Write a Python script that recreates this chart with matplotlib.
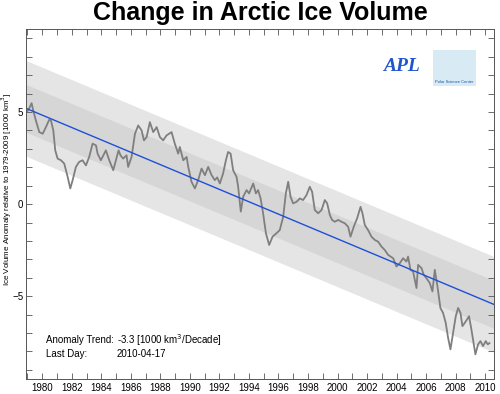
import matplotlib
matplotlib.use('Agg')
import matplotlib.pyplot as plt
from matplotlib.ticker import MultipleLocator
from matplotlib.patches import Rectangle
import numpy as np

plt.rcParams['font.family'] = ['Liberation Sans', 'DejaVu Sans']

# anomaly series (decimal year, 1000 km^3)
years = [1979.0, 1979.1, 1979.28, 1979.39, 1979.57, 1979.8, 1980.03, 1980.25, 1980.47, 1980.59,
         1980.75, 1980.88, 1981.04, 1981.27, 1981.49, 1981.72, 1981.9, 1982.06, 1982.28, 1982.5,
         1982.73, 1982.96, 1983.18, 1983.41, 1983.64, 1983.75, 1983.97, 1984.31, 1984.54, 1984.81,
         1984.99, 1985.17, 1985.3, 1985.48, 1985.71, 1985.82, 1986.05, 1986.28, 1986.5, 1986.73,
         1986.89, 1987.07, 1987.29, 1987.52, 1987.75, 1987.97, 1988.19, 1988.42, 1988.76, 1988.98,
         1989.21, 1989.32, 1989.55, 1989.78, 1989.89, 1990.11, 1990.34, 1990.56, 1990.79, 1991.02,
         1991.24, 1991.47, 1991.69, 1991.85, 1992.03, 1992.25, 1992.44, 1992.59, 1992.76, 1992.93,
         1993.16, 1993.27, 1993.45, 1993.61, 1993.84, 1994.01, 1994.29, 1994.47, 1994.62, 1994.79,
         1994.96, 1995.15, 1995.37, 1995.6, 1995.87, 1996.09, 1996.32, 1996.5, 1996.66, 1996.82,
         1996.99, 1997.22, 1997.45, 1997.67, 1997.9, 1998.12, 1998.28, 1998.46, 1998.69, 1998.92,
         1999.14, 1999.3, 1999.48, 1999.63, 1999.82, 2000.04, 2000.27, 2000.49, 2000.72, 2000.88,
         2001.1, 2001.33, 2001.56, 2001.69, 2001.85, 2002.07, 2002.3, 2002.53, 2002.75, 2002.98,
         2003.2, 2003.43, 2003.77, 2003.99, 2004.22, 2004.44, 2004.67, 2004.78, 2004.94, 2005.12,
         2005.35, 2005.46, 2005.69, 2005.84, 2006.02, 2006.25, 2006.43, 2006.59, 2006.77, 2006.97,
         2007.15, 2007.33, 2007.49, 2007.65, 2007.83, 2008.01, 2008.17, 2008.33, 2008.46, 2008.62,
         2008.77, 2008.91, 2009.07, 2009.18, 2009.34, 2009.52, 2009.68, 2009.86, 2010.04, 2010.18,
         2010.29]
anomaly = [5.05, 5.17, 5.48, 5.08, 4.54, 3.91, 3.82, 4.18, 4.58, 4.54,
           4.0, 2.92, 2.47, 2.38, 2.2, 1.48, 0.85, 1.3, 2.02, 2.29,
           2.38, 2.1, 2.56, 3.28, 3.19, 2.74, 2.38, 2.92, 2.38, 1.84,
           2.38, 2.92, 2.65, 2.47, 2.65, 2.02, 2.56, 3.82, 4.27, 4.0,
           3.46, 3.64, 4.45, 3.91, 4.18, 3.64, 3.46, 3.73, 3.91, 3.28,
           2.74, 3.1, 2.38, 2.56, 2.02, 1.21, 0.85, 1.3, 1.93, 1.57,
           2.02, 1.57, 1.3, 1.45, 1.12, 1.66, 2.38, 2.83, 2.74, 1.84,
           1.48, 0.94, -0.41, 0.4, 0.76, 0.58, 1.12, 0.58, 0.76, 0.31,
           -0.5, -1.58, -2.22, -1.77, -1.58, -1.41, -0.69, 0.58, 1.21, 0.4,
           0.04, 0.12, 0.31, 0.22, 0.49, 0.94, 0.67, -0.32, -0.5, -0.32,
           0.22, 0.04, -0.59, -0.86, -0.96, -0.86, -0.96, -1.04, -1.23, -1.77,
           -1.23, -0.77, -0.15, -0.5, -1.14, -1.41, -1.77, -1.95, -2.04, -2.31,
           -2.49, -2.76, -2.94, -3.39, -3.21, -2.94, -3.12, -2.85, -3.57, -3.66,
           -4.56, -3.3, -3.48, -3.84, -4.02, -4.29, -4.74, -3.57, -4.47, -5.64,
           -5.91, -6.45, -7.26, -7.89, -6.99, -6.09, -5.64, -5.91, -6.63, -6.45,
           -6.27, -6.09, -6.81, -7.35, -8.16, -7.62, -7.44, -7.71, -7.44, -7.62,
           -7.55]

# linear trend and its 1 / 2 sigma bands
trend_years = [1978.9, 2010.6]
trend_values = [5.2, -5.45]
sigma = 1.3

fig = plt.figure(figsize=(5, 3.94), dpi=100)
ax = fig.add_axes([0.052, 0.038, 0.936, 0.888])

ty = np.array(trend_years)
tv = np.array(trend_values)
ax.fill_between(ty, tv - 2 * sigma, tv + 2 * sigma, color='#e5e5e5', lw=0)
ax.fill_between(ty, tv - sigma, tv + sigma, color='#d6d6d6', lw=0)
ax.plot(years, anomaly, color='#7f7f7f', lw=1.3)
ax.plot(ty, tv, color='#1e4fd8', lw=1.0)

ax.set_xlim(1978.9, 2010.6)
ax.set_ylim(-9.5, 9.5)
ax.xaxis.set_major_locator(MultipleLocator(2))
ax.xaxis.set_minor_locator(MultipleLocator(1))
ax.yaxis.set_major_locator(MultipleLocator(5))
ax.yaxis.set_minor_locator(MultipleLocator(1))
ax.tick_params(which='both', direction='in', top=True, right=True, length=4,
               width=0.6, color='#555555', labelsize=7, pad=3)
ax.tick_params(axis='y', pad=2)
for s in ax.spines.values():
    s.set_color('#555555')
    s.set_linewidth(0.7)

fig.text(0.0135, 0.52, 'Ice Volume Anomaly relative to 1979-2009 [1000 km$^3$]',
         fontsize=5.8, rotation=90, ha='center', va='center')

ax.text(0.043, 0.111, 'Anomaly Trend:', transform=ax.transAxes, fontsize=7, va='center')
ax.text(0.194, 0.111, '-3.3 [1000 km$^3$/Decade]', transform=ax.transAxes, fontsize=7, va='center')
ax.text(0.043, 0.071, 'Last Day:', transform=ax.transAxes, fontsize=7, va='center')
ax.text(0.194, 0.071, '2010-04-17', transform=ax.transAxes, fontsize=7, va='center')

# rough stand-ins for the two logos
fig.text(0.766, 0.82, 'APL', color='#2255cc', fontsize=14, fontweight='bold',
         fontstyle='italic', family='Liberation Serif')
fig.patches.append(Rectangle((0.866, 0.782), 0.086, 0.091, transform=fig.transFigure,
                             facecolor='#d8eaf4', edgecolor='none'))
fig.text(0.909, 0.79, 'Polar Science Center', fontsize=3, color='#2255aa', ha='center')

fig.text(0.521, 0.949, 'Change in Arctic Ice Volume', fontsize=18, fontweight='bold',
         ha='center', va='baseline')

fig.savefig('out.png', dpi=100)
